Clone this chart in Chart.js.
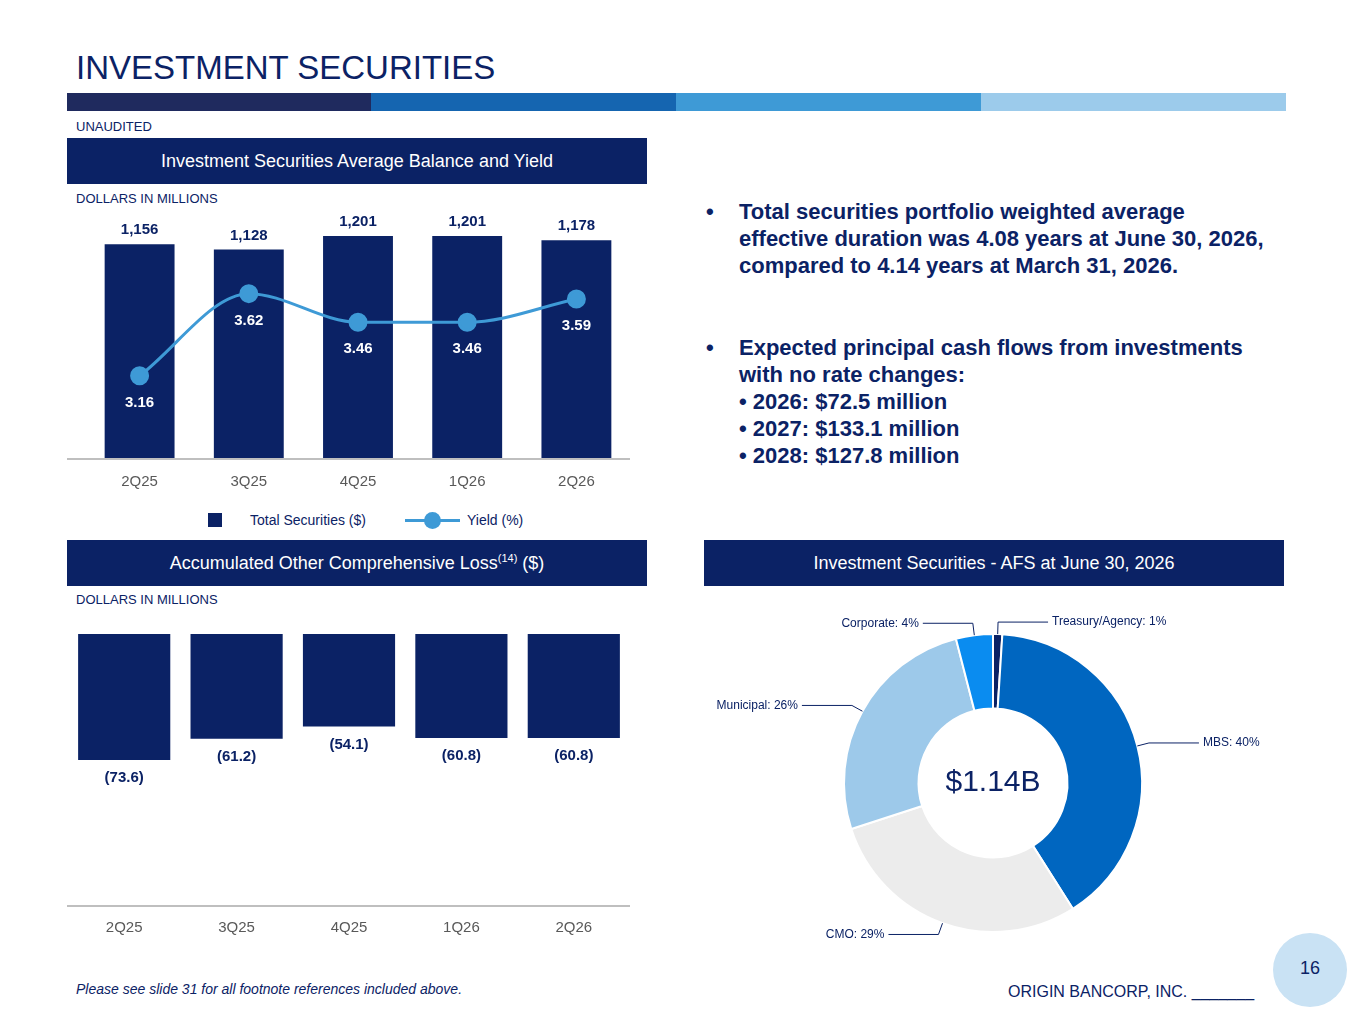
<!DOCTYPE html>
<html><head><meta charset="utf-8">
<script src="https://cdn.jsdelivr.net/npm/chart.js@4"></script>
<style>
body{margin:0;width:1365px;height:1024px;position:relative;background:#fff;font-family:"Liberation Sans",Arial,sans-serif;overflow:hidden}
.a{position:absolute}
.hdr{position:absolute;background:#0b2265;color:#fff;font-size:18px;text-align:center;line-height:46px;height:46px}
.small{position:absolute;font-size:13px;color:#0b2265}
.bul{position:absolute;left:706px;width:560px;color:#0b2265;font-weight:bold;font-size:22px;line-height:27px}
.bul .d{position:absolute;left:0}
.bul .t{margin-left:33px}
</style></head><body>
<div class="a" style="left:76px;top:49px;font-size:33px;color:#0b2265">INVESTMENT SECURITIES</div>
<div class="a" style="left:67px;top:93px;width:304px;height:18px;background:#1f2a5e"></div>
<div class="a" style="left:371px;top:93px;width:305px;height:18px;background:#1565b0"></div>
<div class="a" style="left:676px;top:93px;width:305px;height:18px;background:#3e9ad6"></div>
<div class="a" style="left:981px;top:93px;width:305px;height:18px;background:#9ccbeb"></div>
<div class="small" style="left:76px;top:119px">UNAUDITED</div>
<div class="hdr" style="left:67px;top:138px;width:580px">Investment Securities Average Balance and Yield</div>
<div class="small" style="left:76px;top:191px">DOLLARS IN MILLIONS</div>
<div class="hdr" style="left:67px;top:540px;width:580px">Accumulated Other Comprehensive Loss<sup style="font-size:11px;line-height:0">(14)</sup> ($)</div>
<div class="small" style="left:76px;top:592px">DOLLARS IN MILLIONS</div>
<div class="hdr" style="left:704px;top:540px;width:580px">Investment Securities - AFS at June 30, 2026</div>

<div class="bul" style="top:198px"><span class="d">•</span><div class="t" style="width:525px">Total securities portfolio weighted average effective duration was 4.08 years at June 30, 2026, compared to 4.14 years at March 31, 2026.</div></div>
<div class="bul" style="top:334px"><span class="d">•</span><div class="t">Expected principal cash flows from investments with no rate changes:<br>• 2026: $72.5 million<br>• 2027: $133.1 million<br>• 2028: $127.8 million</div></div>

<div class="a" style="left:67px;top:458px;width:563px;height:2px;background:#bfbfbf"></div>
<canvas id="c1" class="a" style="left:74px;top:150px" width="568" height="350"></canvas>
<div class="a" style="left:208px;top:513px;width:14px;height:14px;background:#0b2265"></div>
<div class="a" style="left:250px;top:512px;font-size:14px;color:#0b2265">Total Securities ($)</div>
<div class="a" style="left:405px;top:519px;width:55px;height:3px;background:#3e9ad6"></div>
<div class="a" style="left:424px;top:512px;width:17px;height:17px;border-radius:50%;background:#3e9ad6"></div>
<div class="a" style="left:467px;top:512px;font-size:14px;color:#0b2265">Yield (%)</div>

<div class="a" style="left:67px;top:905px;width:563px;height:2px;background:#bfbfbf"></div>
<canvas id="c2" class="a" style="left:68px;top:600px" width="562" height="348"></canvas>
<canvas id="c3" class="a" style="left:693px;top:583px" width="600" height="400"></canvas>

<div class="a" style="left:76px;top:981px;font-size:14px;font-style:italic;color:#0b2265">Please see slide 31 for all footnote references included above.</div>
<div class="a" style="left:1008px;top:983px;font-size:16px;color:#0b2265">ORIGIN BANCORP, INC. _______</div>
<div class="a" style="left:1273px;top:933px;width:74px;height:74px;border-radius:50%;background:#c9e2f4"></div>
<div class="a" style="left:1300px;top:958px;font-size:18px;color:#0b2265">16</div>

<script>
const quarters = ['2Q25', '3Q25', '4Q25', '1Q26', '2Q26'];
const balance = [1156, 1128, 1201, 1201, 1178];
const yieldPct = [3.16, 3.62, 3.46, 3.46, 3.59];
const aoci = [-73.6, -61.2, -54.1, -60.8, -60.8];
const afsLabels = ['Treasury/Agency', 'MBS', 'CMO', 'Municipal', 'Corporate'];
const afsShares = [1, 40, 29, 26, 4];

const navy = '#0b2265';
const font = 'Liberation Sans';
Chart.defaults.font.family = font;
Chart.defaults.animation = false;

function fixX(h) { return { afterFit: s => { s.height = h; } }; }

// подписи значений
const valueLabels = {
  id: 'valueLabels',
  afterDatasetsDraw(chart) {
    const ctx = chart.ctx;
    ctx.save();
    ctx.font = 'bold 15px ' + font;
    ctx.textAlign = 'center';
    chart.data.datasets.forEach((ds, i) => {
      const meta = chart.getDatasetMeta(i);
      meta.data.forEach((el, j) => {
        const v = ds.data[j];
        if (ds.kind === 'bar') {
          ctx.fillStyle = navy;
          ctx.fillText(v.toLocaleString('en-US'), el.x, el.y - 10);
        } else if (ds.kind === 'line') {
          ctx.fillStyle = '#fff';
          ctx.fillText(v.toFixed(2), el.x, el.y + 31);
        } else if (ds.kind === 'neg') {
          ctx.fillStyle = navy;
          ctx.fillText('(' + Math.abs(v).toFixed(1) + ')', el.x, el.y + 22);
        }
      });
    });
    ctx.restore();
  }
};

new Chart(document.getElementById('c1'), {
  data: {
    labels: quarters,
    datasets: [
      { kind: 'line', type: 'line', data: yieldPct, yAxisID: 'y1', borderColor: '#3e9ad6', backgroundColor: '#3e9ad6',
        borderWidth: 3, pointRadius: 8, cubicInterpolationMode: 'monotone', order: 0 },
      { kind: 'bar', type: 'bar', data: balance, yAxisID: 'y', backgroundColor: navy, barPercentage: 0.64, categoryPercentage: 1, order: 1 }
    ]
  },
  options: {
    responsive: false,
    layout: { padding: { top: 40 } },
    plugins: { legend: { display: false }, tooltip: { enabled: false } },
    scales: {
      x: { grid: { display: false }, border: { display: false }, ticks: { color: '#595959', font: { size: 15 }, padding: 7 }, ...fixX(42) },
      y: { display: false, min: 0, max: 1450 },
      y1: { display: false, min: 2.7, max: 4.2 }
    }
  },
  plugins: [valueLabels]
});

new Chart(document.getElementById('c2'), {
  type: 'bar',
  data: { labels: quarters, datasets: [{ kind: 'neg', data: aoci, backgroundColor: navy, barPercentage: 0.82, categoryPercentage: 1 }] },
  options: {
    responsive: false,
    layout: { padding: { top: 34 } },
    plugins: { legend: { display: false }, tooltip: { enabled: false } },
    scales: {
      x: { grid: { display: false }, border: { display: false }, ticks: { color: '#595959', font: { size: 15 }, padding: 5 }, ...fixX(42) },
      y: { display: false, min: -159, max: 0 }
    }
  },
  plugins: [valueLabels]
});

// выноски и центр кольца
const leaders = {
  id: 'leaders',
  afterDatasetsDraw(chart) {
    const ctx = chart.ctx;
    const meta = chart.getDatasetMeta(0);
    ctx.save();
    ctx.strokeStyle = navy; ctx.fillStyle = navy; ctx.lineWidth = 1;
    ctx.font = '12px ' + font;
    ctx.textBaseline = 'middle';
    meta.data.forEach((arc, i) => {
      const a = (arc.startAngle + arc.endAngle) / 2;
      const r = arc.outerRadius;
      const x0 = arc.x + Math.cos(a) * r, y0 = arc.y + Math.sin(a) * r;
      const x1 = arc.x + Math.cos(a) * (r + 12), y1 = arc.y + Math.sin(a) * (r + 12);
      const right = Math.cos(a) >= 0;
      const x2 = x1 + (right ? 50 : -50);
      ctx.beginPath(); ctx.moveTo(x0, y0); ctx.lineTo(x1, y1); ctx.lineTo(x2, y1); ctx.stroke();
      ctx.textAlign = right ? 'left' : 'right';
      ctx.fillText(afsLabels[i] + ': ' + afsShares[i] + '%', x2 + (right ? 4 : -4), y1);
    });
    ctx.font = '30px ' + font; ctx.textAlign = 'center';
    ctx.fillText('$1.14B', meta.data[0].x, meta.data[0].y);
    ctx.restore();
  }
};

new Chart(document.getElementById('c3'), {
  type: 'doughnut',
  data: { labels: afsLabels, datasets: [{ data: afsShares, borderWidth: 2, borderColor: '#fff',
    backgroundColor: [navy, '#0066c0', '#ececec', '#9dc9ea', '#0a8cf0'] }] },
  options: {
    responsive: false, cutout: '50%',
    layout: { padding: 50 },
    plugins: { legend: { display: false }, tooltip: { enabled: false } }
  },
  plugins: [leaders]
});
</script>
</body></html>
